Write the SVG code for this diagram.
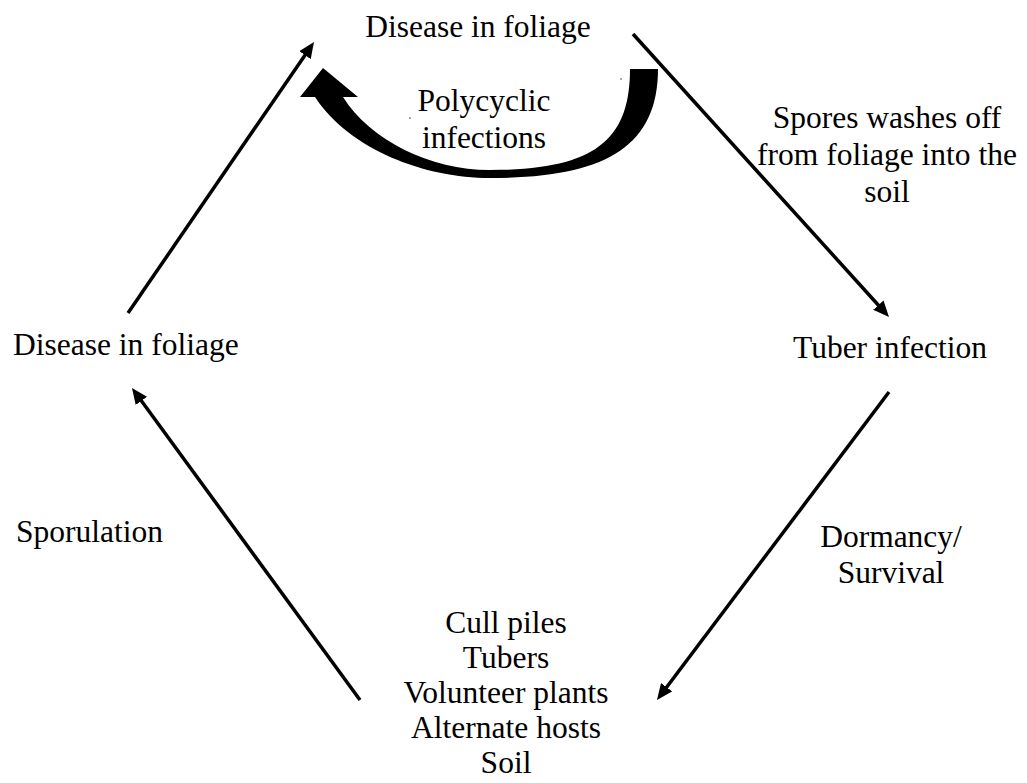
<svg xmlns="http://www.w3.org/2000/svg" width="1027" height="783" viewBox="0 0 1027 783">
<defs>
<marker id="ah" markerUnits="userSpaceOnUse" markerWidth="16" markerHeight="14" refX="10" refY="7" orient="auto">
<path d="M0,0 L16,7 L0,14 Z" fill="#000"/>
</marker>
<style>
text{font-family:"Liberation Serif","Times New Roman",serif;font-size:31.5px;fill:#000}
.m{text-anchor:middle}
.c{stroke:#000;stroke-width:3.5;fill:none;marker-end:url(#ah)}
</style>
</defs>
<rect width="1027" height="783" fill="#fff"/>
<g id="connectors">
<line class="c" x1="128" y1="313" x2="310.6" y2="46.9"/>
<line class="c" x1="633" y1="34" x2="885" y2="312.5"/>
<line class="c" x1="889" y1="392" x2="660.6" y2="695.2"/>
<line class="c" x1="360" y1="700" x2="135.5" y2="392.8"/>
<path id="polycyclic-arrow" d="M323,68 L358,97 L343,97 C370,140 430,170 490,170 C595,170 630,140 630,69 L658,69 C658,150 600,178 490,178 C425,178 350,150 315,97 L300,97 Z" fill="#000"/>
<circle cx="410" cy="118" r="0.8" fill="#444"/>
<circle cx="621" cy="79" r="0.8" fill="#444"/>
</g>
<g id="node-foliage-top"><text class="m" x="478" y="37">Disease in foliage</text></g>
<g id="label-polycyclic"><text class="m" x="484" y="111">Polycyclic</text><text class="m" x="484" y="148">infections</text></g>
<g id="label-spores"><text class="m" x="887" y="128">Spores washes off</text><text class="m" x="887" y="165">from foliage into the</text><text class="m" x="887" y="202">soil</text></g>
<g id="node-tuber"><text x="793" y="358">Tuber infection</text></g>
<g id="node-foliage-left"><text x="13" y="355">Disease in foliage</text></g>
<g id="label-sporulation"><text x="16" y="542">Sporulation</text></g>
<g id="label-dormancy"><text class="m" x="891" y="547">Dormancy/</text><text class="m" x="891" y="583">Survival</text></g>
<g id="node-sources"><text class="m" x="506" y="633">Cull piles</text><text class="m" x="506" y="668">Tubers</text><text class="m" x="506" y="703">Volunteer plants</text><text class="m" x="506" y="738">Alternate hosts</text><text class="m" x="506" y="773">Soil</text></g>
</svg>
